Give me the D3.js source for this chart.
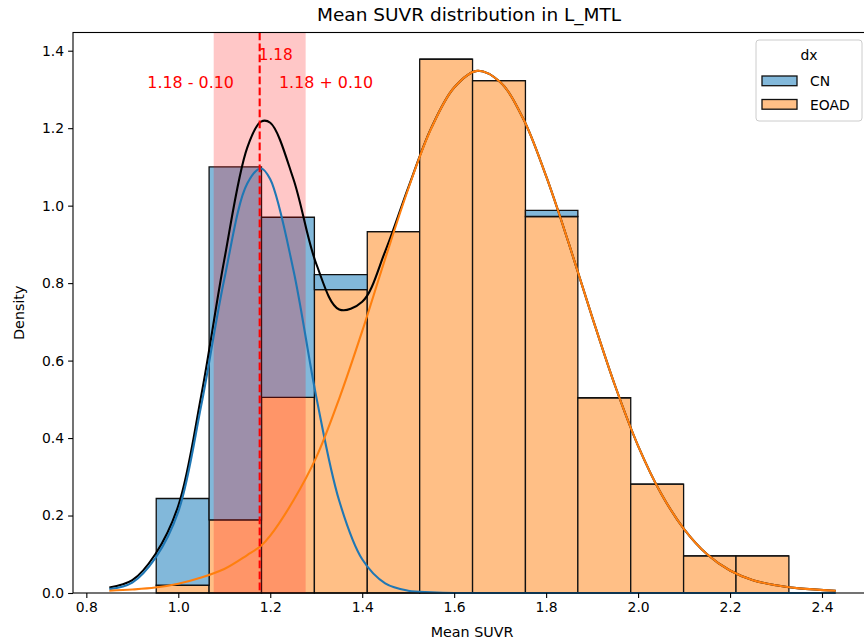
<!DOCTYPE html>
<html>
<head>
<meta charset="utf-8">
<script src="https://cdn.jsdelivr.net/npm/d3@7"></script>
<style>
  body { margin: 0; background: #fff; }
  text { font-family: "DejaVu Sans", sans-serif; fill: #000; }
</style>
</head>
<body>
<div id="chart"></div>
<script>
// histogram bins (common to both groups), stacked EOAD under CN
const binEdges = [0.952, 1.067, 1.181, 1.296, 1.411, 1.525, 1.640, 1.755, 1.869, 1.984, 2.099, 2.213, 2.328];
const eoadDensity = [0.020, 0.189, 0.505, 0.783, 0.933, 1.378, 1.323, 0.972, 0.504, 0.281, 0.096, 0.096];
const cnDensity = [0.224, 0.911, 0.465, 0.039, 0, 0, 0, 0.016, 0, 0, 0, 0];

// kde curves
const kdeX = [0.85, 0.90, 0.95, 1.00, 1.05, 1.10, 1.15, 1.18, 1.20, 1.25, 1.30, 1.35, 1.40, 1.45, 1.50, 1.55, 1.60, 1.65, 1.70, 1.75, 1.80, 1.85, 1.90, 1.95, 2.00, 2.05, 2.10, 2.15, 2.20, 2.25, 2.30, 2.35, 2.43];
const cnKde = [0.010, 0.027, 0.090, 0.210, 0.485, 0.810, 1.057, 1.096, 1.068, 0.836, 0.507, 0.238, 0.087, 0.025, 0.006, 0.002, 0, 0, 0, 0, 0, 0, 0, 0, 0, 0, 0, 0, 0, 0, 0, 0, 0];
const eoadKde = [0.006, 0.009, 0.014, 0.024, 0.040, 0.062, 0.098, 0.122, 0.148, 0.238, 0.350, 0.502, 0.676, 0.863, 1.043, 1.199, 1.305, 1.348, 1.319, 1.225, 1.076, 0.900, 0.713, 0.535, 0.380, 0.257, 0.165, 0.100, 0.058, 0.033, 0.020, 0.012, 0.006];
const allKde = [0.014, 0.033, 0.100, 0.225, 0.510, 0.860, 1.150, 1.217, 1.214, 1.070, 0.850, 0.732, 0.752, 0.882, 1.046, 1.200, 1.305, 1.348, 1.319, 1.225, 1.076, 0.900, 0.713, 0.535, 0.380, 0.257, 0.165, 0.100, 0.058, 0.033, 0.020, 0.012, 0.006];

const meanValue = 1.177;
const sdValue = 0.100;
const groups = ["CN", "EOAD"];
const xTicks = [0.8, 1.0, 1.2, 1.4, 1.6, 1.8, 2.0, 2.2, 2.4];
const yTicks = [0.0, 0.2, 0.4, 0.6, 0.8, 1.0, 1.2, 1.4];
const xLimits = [0.771, 2.507];
const yLimits = [0, 1.447];

const W = 864, H = 642;
const margin = { top: 32.5, right: -7.2, bottom: 49, left: 73 };
const width = W - margin.left - margin.right;
const height = H - margin.top - margin.bottom;

const blueLine = "#1f77b4", orangeLine = "#ff7f0e";
const blueFill = "#82b8da", orangeFill = "#ffbf86";

const svg = d3.select("#chart")
  .append("svg")
  .attr("width", W)
  .attr("height", H);

const g = svg.append("g")
  .attr("transform", `translate(${margin.left},${margin.top})`);

const x = d3.scaleLinear().domain(xLimits).range([0, width]);
const y = d3.scaleLinear().domain(yLimits).range([height, 0]);

// bars
const rows = eoadDensity.map((v, i) => ({ x0: binEdges[i], x1: binEdges[i + 1], EOAD: v, CN: cnDensity[i] }));
const stacked = d3.stack().keys(["EOAD", "CN"])(rows);
const fills = { EOAD: orangeFill, CN: blueFill };

stacked.forEach(layer => {
  g.append("g")
    .selectAll("path")
    .data(layer)
    .enter()
    .append("path")
    .attr("d", d => {
      const x0 = x(d.data.x0), x1 = x(d.data.x1);
      const y0 = y(d[0]), y1 = y(d[1]);
      return `M${x0},${y0}V${y1}H${x1}V${y0}Z`;
    })
    .attr("fill", fills[layer.key])
    .attr("stroke", "#111")
    .attr("stroke-width", 1.3);
});

// +/- sd band
g.append("rect")
  .attr("x", x(meanValue - sdValue))
  .attr("y", 0)
  .attr("width", x(meanValue + sdValue) - x(meanValue - sdValue))
  .attr("height", height)
  .attr("fill", "red")
  .attr("fill-opacity", 0.22);

// kde lines
const line = ys => d3.line()
  .x((d, i) => x(kdeX[i]))
  .y(d => y(d))
  .curve(d3.curveCatmullRom.alpha(0.5))(ys);

g.append("path").attr("d", line(allKde)).attr("fill", "none").attr("stroke", "#000").attr("stroke-width", 2.1);
g.append("path").attr("d", line(cnKde)).attr("fill", "none").attr("stroke", blueLine).attr("stroke-width", 2.1);
g.append("path").attr("d", line(eoadKde)).attr("fill", "none").attr("stroke", orangeLine).attr("stroke-width", 2.1);

// mean line
g.append("line")
  .attr("x1", x(meanValue)).attr("x2", x(meanValue))
  .attr("y1", 0).attr("y2", height)
  .attr("stroke", "red")
  .attr("stroke-width", 2.1)
  .attr("stroke-dasharray", "7.7,3.3");

const fmt = d3.format(".2f");
g.append("text")
  .attr("x", x(meanValue) - 1).attr("y", y(1.377))
  .style("fill", "red").style("font-size", "15.3px")
  .text(fmt(meanValue));
g.append("text")
  .attr("x", x(meanValue - 0.056)).attr("y", y(1.303))
  .attr("text-anchor", "end")
  .style("fill", "red").style("font-size", "15.9px")
  .text(`${fmt(meanValue)} - ${fmt(sdValue)}`);
g.append("text")
  .attr("x", x(meanValue + 0.042)).attr("y", y(1.303))
  .style("fill", "red").style("font-size", "15.9px")
  .text(`${fmt(meanValue)} + ${fmt(sdValue)}`);

// axes
const xAxis = d3.axisBottom(x).tickValues(xTicks).tickFormat(d3.format(".1f")).tickSizeOuter(0).tickSize(4.9).tickPadding(4);
const yAxis = d3.axisLeft(y).tickValues(yTicks).tickFormat(d3.format(".1f")).tickSizeOuter(0).tickSize(4.9).tickPadding(4);

const gx = g.append("g")
  .attr("transform", `translate(0,${height})`)
  .call(xAxis);
const gy = g.append("g").call(yAxis);

[gx, gy].forEach(a => {
  a.select(".domain").remove();
  a.selectAll("line").attr("stroke", "#000").attr("stroke-width", 1.1);
  a.selectAll("text").style("font-size", "13.9px").attr("font-family", "DejaVu Sans");
});

// spines
g.append("rect")
  .attr("x", 0).attr("y", 0)
  .attr("width", width).attr("height", height)
  .attr("fill", "none")
  .attr("stroke", "#000")
  .attr("stroke-width", 1.1);

svg.append("text")
  .attr("x", margin.left + width / 2 - 3)
  .attr("y", 21)
  .attr("text-anchor", "middle")
  .style("font-size", "18.5px")
  .text("Mean SUVR distribution in L_MTL");

svg.append("text")
  .attr("x", margin.left + width / 2)
  .attr("y", 637)
  .attr("text-anchor", "middle")
  .style("font-size", "14.3px")
  .text("Mean SUVR");

svg.append("text")
  .attr("transform", `translate(24,${margin.top + height / 2}) rotate(-90)`)
  .attr("text-anchor", "middle")
  .style("font-size", "14.3px")
  .text("Density");

// legend
const legend = svg.append("g").attr("transform", "translate(756,40)");
legend.append("rect")
  .attr("width", 106).attr("height", 81)
  .attr("rx", 3)
  .attr("fill", "#fff").attr("fill-opacity", 0.8)
  .attr("stroke", "#ccc");
legend.append("text")
  .attr("x", 53).attr("y", 20)
  .attr("text-anchor", "middle")
  .style("font-size", "13.9px")
  .text("dx");
groups.forEach((name, i) => {
  const row = legend.append("g").attr("transform", `translate(6,${36 + i * 23.5})`);
  row.append("rect")
    .attr("width", 35).attr("height", 9.7)
    .attr("fill", name === "CN" ? blueFill : orangeFill)
    .attr("stroke", "#111").attr("stroke-width", 1.3);
  row.append("text")
    .attr("x", 48).attr("y", 10)
    .style("font-size", "13.9px")
    .text(name);
});
</script>
</body>
</html>
